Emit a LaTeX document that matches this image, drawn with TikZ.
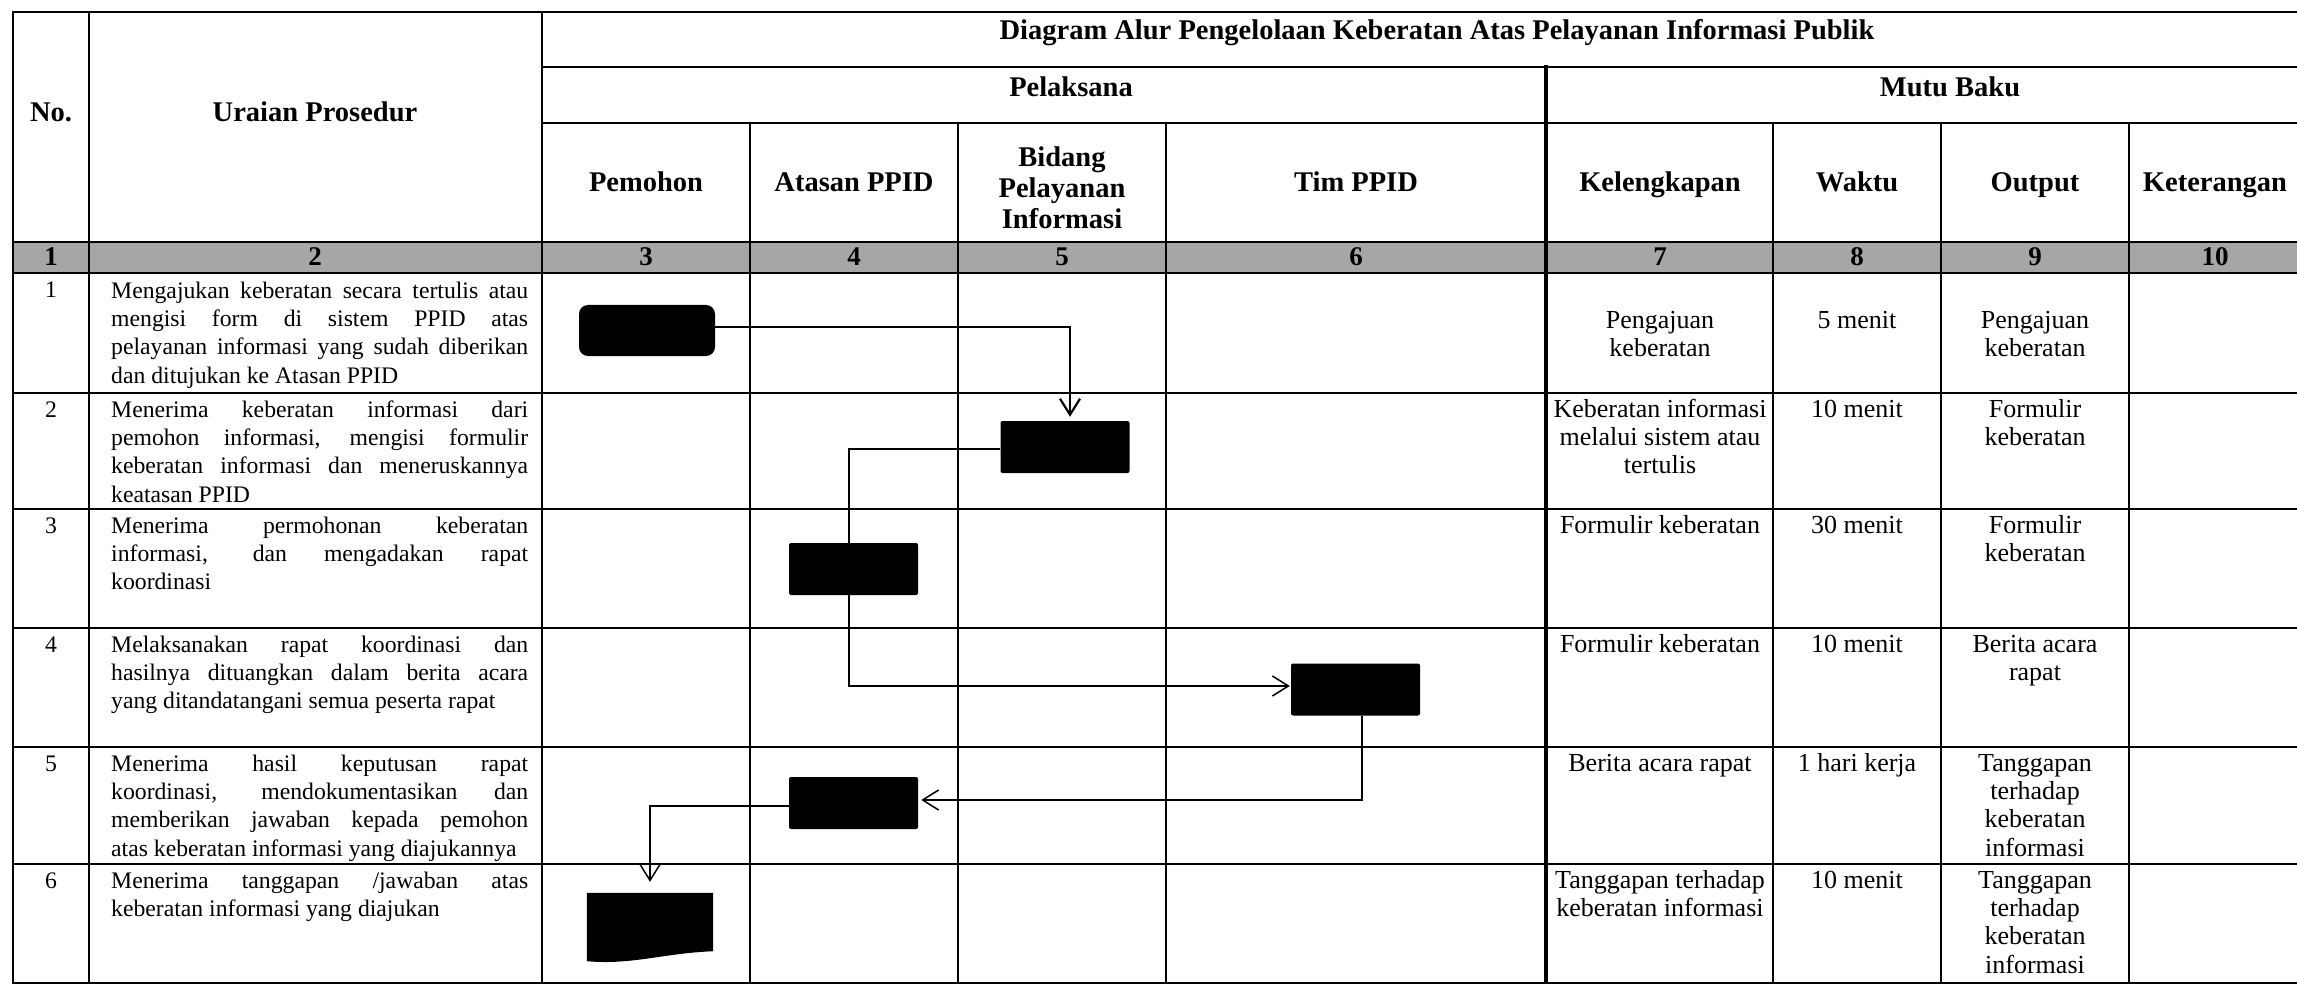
\documentclass[tikz,border=0pt]{standalone}
\usepackage{fontspec}
\setmainfont{Liberation Serif}
\usetikzlibrary{arrows.meta}
\setlength{\parindent}{0pt}

\definecolor{abunomor}{HTML}{A6A6A6}
% one justified line of the procedure column, and one plain line
\newcommand{\jline}[1]{\leavevmode\hbox to 417pt{\spaceskip=\fontdimen2\font plus 1fil\relax #1}}
\newcommand{\sline}[1]{\leavevmode\hbox{\spaceskip=0pt\relax #1}}

\begin{document}
\begin{tikzpicture}[x=1pt, y=-1pt,
    garis/.style={line width=2.2pt, line cap=rect},
    garistebal/.style={line width=3.2pt, line cap=rect},
    hdr/.style={font=\fontsize{28.5}{31}\selectfont\bfseries, inner sep=0pt},
    nomor/.style={font=\fontsize{27}{30}\selectfont\bfseries, inner sep=0pt, anchor=base},
    nourut/.style={font=\fontsize{23.7}{28.3}\selectfont, inner sep=0pt, anchor=base},
    prosedur/.style={font=\fontsize{23.7}{28.3}\selectfont, inner sep=0pt,
                     anchor=north west, text width=417pt, align=left},
    mutu/.style={font=\fontsize{26}{28.3}\selectfont, inner sep=0pt, anchor=north, align=center},
    term/.style={fill=black, rounded corners=9pt, minimum width=136pt, minimum height=51pt, inner sep=0pt},
    proc/.style={fill=black, rounded corners=2pt, minimum width=129pt, minimum height=52pt, inner sep=0pt},
    dokumen/.style={minimum width=126pt, minimum height=68pt, inner sep=0pt},
    alur/.style={line width=1.5pt, -{Straight Barb[length=16pt, width=20pt]}},
  ]
  \fill[white] (0,0) rectangle (2297,984);
  \useasboundingbox (0,0) rectangle (2297,984);

  % table
  \fill[abunomor] (13,242) rectangle (2297,273);
  \draw[garis] (13,12) -- (2297,12);
  \draw[garis] (542,67) -- (2297,67);
  \draw[garis] (542,123) -- (2297,123);
  \foreach \y in {242,273,393,509,628,747,864,983}
    \draw[garis] (13,\y) -- (2297,\y);
  \foreach \x in {13,89,542}
    \draw[garis] (\x,12) -- (\x,983);
  \foreach \x in {750,958,1166,1773,1941,2129}
    \draw[garis] (\x,123) -- (\x,983);
  \draw[garistebal] (1546,67) -- (1546,983);

  % headings
  \node[hdr, anchor=base] (judul) at (1437,40) {Diagram Alur Pengelolaan Keberatan Atas Pelayanan Informasi Publik};
  \node[hdr, anchor=base] (pelaksana) at (1071,97) {Pelaksana};
  \node[hdr, anchor=base] (mutubaku) at (1950,97) {Mutu Baku};
  \node[hdr, anchor=base] (hno) at (51,122) {No.};
  \node[hdr, anchor=base] (huraian) at (315,122) {Uraian Prosedur};
  \foreach \x/\nama/\teks in {646/pem/Pemohon, 854/ata/Atasan PPID, 1356/tim/Tim PPID,
      1660/kel/Kelengkapan, 1857/wkt/Waktu, 2035/out/Output, 2215/ket/Keterangan}
    \node[hdr, anchor=base] (h\nama) at (\x,192) {\teks};
  \node[hdr, align=center] (hbid) at (1062,188) {Bidang\\Pelayanan\\Informasi};

  \foreach \x/\n in {51/1, 315/2, 646/3, 854/4, 1062/5, 1356/6, 1660/7, 1857/8, 2035/9, 2215/10}
    \node[nomor] (k\n) at (\x,266) {\n};

  % row 1
  \node[nourut] (no1) at (51,298) {1};
  \node[prosedur] (ur1) at (111,278.2) {\jline{\strut Mengajukan keberatan secara tertulis atau}\\
    \jline{mengisi form di sistem PPID atas}\\
    \jline{pelayanan informasi yang sudah diberikan}\\
    \sline{dan ditujukan ke Atasan PPID}};
  \node[mutu] (kel1) at (1660,308.2) {\strut Pengajuan\\keberatan};
  \node[mutu] (wkt1) at (1857,308.2) {\strut 5 menit};
  \node[mutu] (out1) at (2035,308.2) {\strut Pengajuan\\keberatan};

  % row 2
  \node[nourut] (no2) at (51,417) {2};
  \node[prosedur] (ur2) at (111,397.2) {\jline{\strut Menerima keberatan informasi dari}\\
    \jline{pemohon informasi, mengisi formulir}\\
    \jline{keberatan informasi dan meneruskannya}\\
    \sline{keatasan PPID}};
  \node[mutu] (kel2) at (1660,397.2) {\strut Keberatan informasi\\melalui sistem atau\\tertulis};
  \node[mutu] (wkt2) at (1857,397.2) {\strut 10 menit};
  \node[mutu] (out2) at (2035,397.2) {\strut Formulir\\keberatan};

  % row 3
  \node[nourut] (no3) at (51,533) {3};
  \node[prosedur] (ur3) at (111,513.2) {\jline{\strut Menerima permohonan keberatan}\\
    \jline{informasi, dan mengadakan rapat}\\
    \sline{koordinasi}};
  \node[mutu] (kel3) at (1660,513.2) {\strut Formulir keberatan};
  \node[mutu] (wkt3) at (1857,513.2) {\strut 30 menit};
  \node[mutu] (out3) at (2035,513.2) {\strut Formulir\\keberatan};

  % row 4
  \node[nourut] (no4) at (51,652) {4};
  \node[prosedur] (ur4) at (111,632.2) {\jline{\strut Melaksanakan rapat koordinasi dan}\\
    \jline{hasilnya dituangkan dalam berita acara}\\
    \sline{yang ditandatangani semua peserta rapat}};
  \node[mutu] (kel4) at (1660,632.2) {\strut Formulir keberatan};
  \node[mutu] (wkt4) at (1857,632.2) {\strut 10 menit};
  \node[mutu] (out4) at (2035,632.2) {\strut Berita acara\\rapat};

  % row 5
  \node[nourut] (no5) at (51,771) {5};
  \node[prosedur] (ur5) at (111,751.2) {\jline{\strut Menerima hasil keputusan rapat}\\
    \jline{koordinasi, mendokumentasikan dan}\\
    \jline{memberikan jawaban kepada pemohon}\\
    \sline{atas keberatan informasi yang diajukannya}};
  \node[mutu] (kel5) at (1660,751.2) {\strut Berita acara rapat};
  \node[mutu] (wkt5) at (1857,751.2) {\strut 1 hari kerja};
  \node[mutu] (out5) at (2035,751.2) {\strut Tanggapan\\terhadap\\keberatan\\informasi};

  % row 6
  \node[nourut] (no6) at (51,888) {6};
  \node[prosedur] (ur6) at (111,868.2) {\jline{\strut Menerima tanggapan /jawaban atas}\\
    \sline{keberatan informasi yang diajukan}};
  \node[mutu] (kel6) at (1660,868.2) {\strut Tanggapan terhadap\\keberatan informasi};
  \node[mutu] (wkt6) at (1857,868.2) {\strut 10 menit};
  \node[mutu] (out6) at (2035,868.2) {\strut Tanggapan\\terhadap\\keberatan\\informasi};

  % flow symbols
  \node[term] (mulai) at (647,330.5) {};
  \node[proc] (isiform) at (1065,447) {};
  \node[proc] (rapat) at (853.5,569) {};
  \node[proc] (berita) at (1355.5,689.5) {};
  \node[proc] (jawab) at (853.5,803) {};
  \node[dokumen] (terima) at (650,927) {};
  \fill (terima.north west) -- (terima.north east) -- ([yshift=10pt]terima.south east)
    .. controls ([xshift=-50pt,yshift=8pt]terima.south east) and ([xshift=45pt,yshift=-4pt]terima.south west)
    .. (terima.south west) -- cycle;

  % connectors
  \draw[alur, line width=2.2pt, shorten >=4pt] ([yshift=3.5pt]mulai.east) -| ([xshift=5pt]isiform.north);
  \draw[line width=1.5pt] ([yshift=-2pt]isiform.west) -| ([xshift=-4.5pt]rapat.north);
  \draw[alur, shorten >=1pt] ([xshift=-4.5pt]rapat.south) |- ([yshift=3.5pt]berita.west);
  \draw[alur, shorten >=3pt] ([xshift=6.5pt]berita.south) |- ([yshift=3pt]jawab.east);
  \draw[alur, shorten >=11pt] ([yshift=-3pt]jawab.west) -| (terima.north);
\end{tikzpicture}
\end{document}
